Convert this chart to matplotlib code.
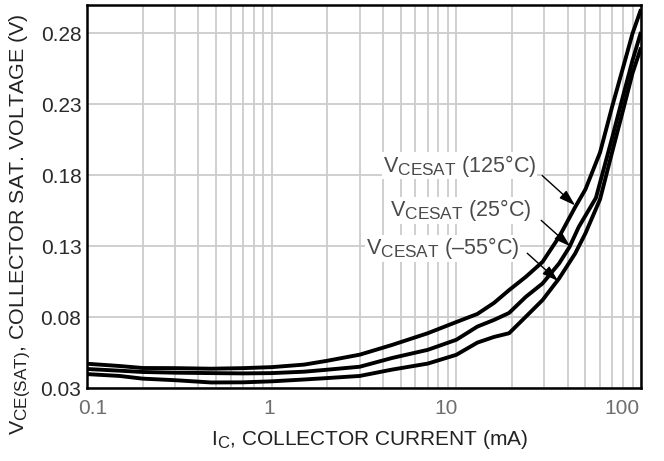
import numpy as np
import matplotlib
matplotlib.use("Agg")
import matplotlib.pyplot as plt
import matplotlib._mathtext as _mt
from matplotlib.ticker import LogLocator, NullFormatter, FixedLocator
from matplotlib.transforms import ScaledTranslation

_mt.SHRINK_FACTOR = 0.8  # larger subscripts, as in the reference

plt.rcParams['font.family'] = ['Liberation Sans', 'DejaVu Sans']
plt.rcParams['mathtext.fontset'] = 'custom'
plt.rcParams['mathtext.rm'] = 'Liberation Sans'
plt.rcParams['mathtext.it'] = 'Liberation Sans'

# ---- data ----
ic_125 = [0.1, 0.15, 0.2, 0.3, 0.47, 0.7, 1.0, 1.5, 2.0, 3.0, 4.5, 7.0, 10, 13, 16,
          19.3, 23.8, 29.3, 36, 44, 50, 60, 70, 80, 90, 100]
v_125 = [0.0471, 0.0455, 0.0441, 0.0440, 0.0436, 0.0440, 0.0447, 0.0465, 0.0492, 0.0535,
         0.0604, 0.0686, 0.0765, 0.0822, 0.0900, 0.0990, 0.1084, 0.1189, 0.1365, 0.1575,
         0.1700, 0.1960, 0.2290, 0.2560, 0.2800, 0.2970]

ic_25 = [0.1, 0.15, 0.2, 0.3, 0.47, 0.7, 1.0, 1.5, 2.0, 3.0, 4.5, 7.0, 10, 13, 16,
         19.3, 23.8, 29.3, 36, 41, 46, 57, 70, 80, 90, 100]
v_25 = [0.0434, 0.0422, 0.0413, 0.0408, 0.0405, 0.0403, 0.0405, 0.0415, 0.0429, 0.0450,
        0.0512, 0.0569, 0.0640, 0.0733, 0.0780, 0.0829, 0.0943, 0.1037, 0.1178, 0.1294,
        0.1435, 0.1640, 0.2070, 0.2360, 0.2610, 0.2810]

ic_m55 = [0.1, 0.15, 0.2, 0.3, 0.47, 0.7, 1.0, 1.5, 2.0, 3.0, 4.5, 7.0, 10, 13, 16,
          19.3, 23.8, 29.3, 36, 44, 50, 60, 70, 80, 90, 100]
v_m55 = [0.0398, 0.0385, 0.0366, 0.0355, 0.0339, 0.0340, 0.0347, 0.0360, 0.0370, 0.0385,
         0.0430, 0.0472, 0.0534, 0.0620, 0.0660, 0.0686, 0.0803, 0.0920, 0.1072, 0.1248,
         0.1390, 0.1630, 0.1970, 0.2260, 0.2520, 0.2700]

y_ticks = [0.03, 0.08, 0.13, 0.18, 0.23, 0.28]
x_ticks = [0.1, 1, 10, 100]
x_tick_labels = ["0.1", "1", "10", "100"]

# ---- figure ----
fig = plt.figure(figsize=(6.64, 4.61), dpi=100)
ax = fig.add_axes([87/664, 73/461, (641-87)/664, (388-5)/461])

lw = 2.8
for xs, ys in [(ic_125, v_125), (ic_25, v_25), (ic_m55, v_m55)]:
    ax.plot(xs, ys, color='black', lw=lw, solid_capstyle='butt',
            solid_joinstyle='round', zorder=3)

ax.set_xscale('log')
ax.set_xlim(0.1, 100)
ax.set_ylim(0.03, 0.30)

ax.xaxis.set_major_locator(FixedLocator(x_ticks))
ax.set_xticklabels(x_tick_labels)
ax.xaxis.set_minor_locator(LogLocator(base=10, subs=np.arange(2, 10)))
ax.xaxis.set_minor_formatter(NullFormatter())
ax.set_yticks(y_ticks)
ax.set_yticklabels([f"{v:.2f}" for v in y_ticks])

ax.grid(True, which='both', axis='x', color='#cccccc', lw=1.3, zorder=0)
ax.grid(True, which='major', axis='y', color='#cccccc', lw=1.3, zorder=0)
ax.set_axisbelow(True)

ax.tick_params(which='both', length=0)
ax.tick_params(axis='x', labelsize=15, labelcolor='#6e6e6e', pad=8)
ax.tick_params(axis='y', labelsize=15, labelcolor='#2a2a2a', pad=4)

for sp in ax.spines.values():
    sp.set_linewidth(1.8)
    sp.set_color('black')

# x tick label offsets (pixels) as in the reference
offs = [6, -2, -10, -19]
for lab, dx in zip(ax.get_xticklabels(), offs):
    lab.set_transform(lab.get_transform() + ScaledTranslation(dx/100, 0, fig.dpi_scale_trans))

ax.set_xlabel(r'I$_\mathregular{C}$, COLLECTOR CURRENT (mA)', fontsize=15,
              color='#222222', va='center')
ax.xaxis.set_label_coords((370 - 87) / 554, -(439 - 388) / 383)
ax.set_ylabel(r'V$_\mathregular{CE(SAT)}$, COLLECTOR SAT. VOLTAGE (V)', fontsize=15.4,
              color='#222222', va='center')
ax.yaxis.set_label_coords((20 - 87) / 554, (388 - 224) / 383)

# annotations
def px2data(px, py):
    return 10 ** (-1 + (px - 87) / 185.0), 0.03 + (388.3 - py) / 1424.0

ann = [
    (r'V$_\mathregular{CESAT}$ (125°C)', (537, 165), (543, 175), (576, 205)),
    (r'V$_\mathregular{CESAT}$ (25°C)', (532, 210), (542, 220), (571, 246)),
    (r'V$_\mathregular{CESAT}$ (–55°C)', (520, 248), (528, 253), (559, 281)),
]
for txt, tpos, a0, a1 in ann:
    tx, ty = px2data(*tpos)
    ax.text(tx, ty, txt, ha='right', va='center', fontsize=15.5, color='#4a4a4a',
            zorder=5, bbox=dict(facecolor='white', edgecolor='none', pad=0.5))
    x0, y0 = px2data(*a0)
    x1, y1 = px2data(*a1)
    ax.annotate('', xy=(x1, y1), xytext=(x0, y0),
                arrowprops=dict(arrowstyle='-|>,head_length=0.7,head_width=0.22',
                                color='black', lw=1.0,
                                mutation_scale=14, shrinkA=0, shrinkB=0),
                zorder=6)

fig.savefig('out.png', dpi=100)
